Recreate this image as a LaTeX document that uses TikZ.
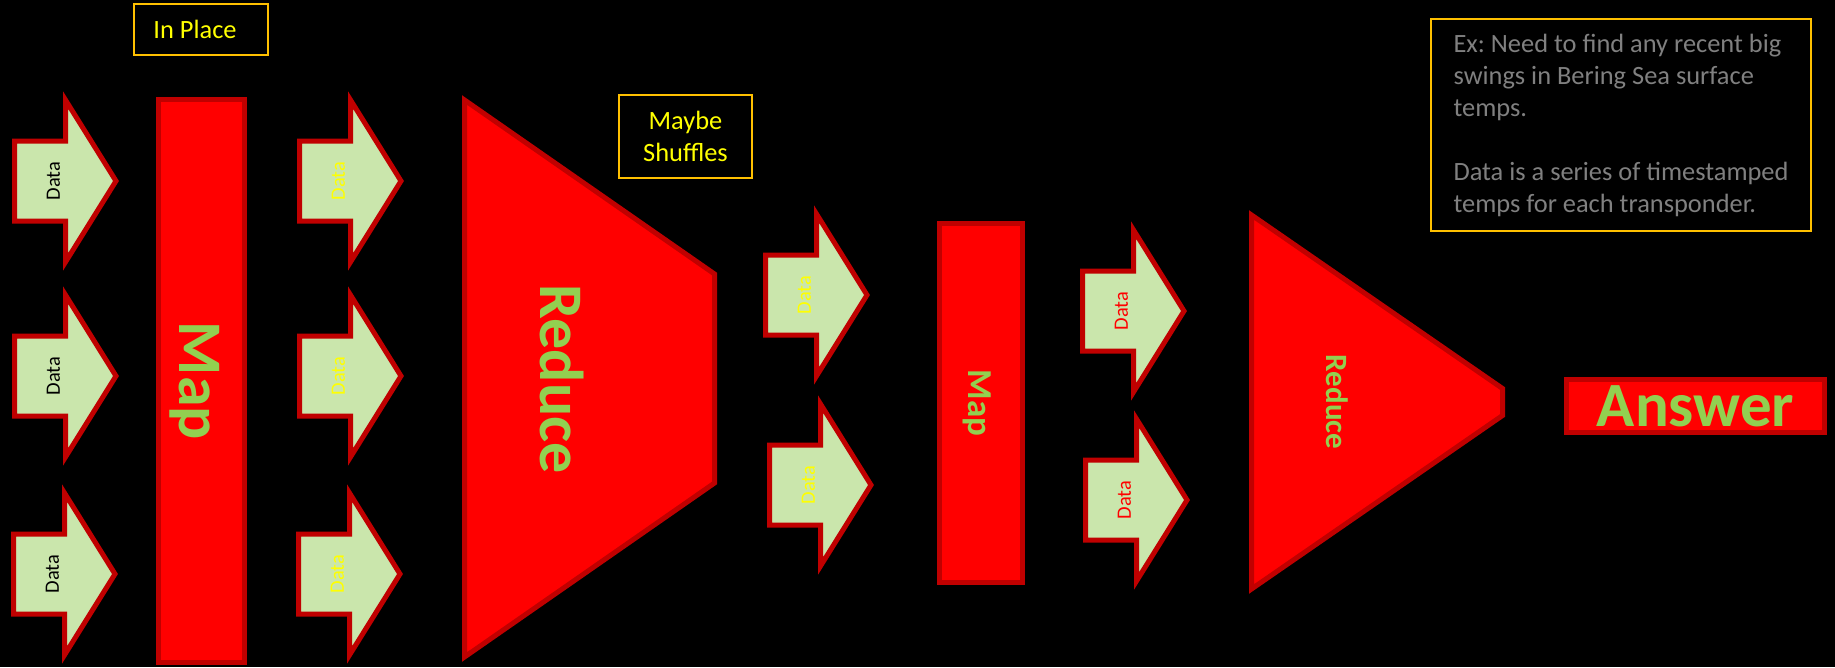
\documentclass[tikz,border=0pt]{standalone}
\usepackage{fontspec}
\setmainfont{Carlito}
\frenchspacing
\definecolor{outlinered}{RGB}{192,0,0}
\definecolor{blockred}{RGB}{255,0,0}
\definecolor{datagreen}{RGB}{202,230,172}
\definecolor{labelgreen}{RGB}{146,208,80}
\definecolor{boxgold}{RGB}{255,192,0}
\definecolor{labelyellow}{RGB}{255,255,0}
\definecolor{notegray}{RGB}{128,128,128}
\tikzset{
  datashape/.style={draw=outlinered, fill=datagreen, line width=5pt},
  blockshape/.style={draw=outlinered, fill=blockred, line width=5pt},
  datatext/.style={rotate=90, inner sep=0pt, font=\fontsize{20.4}{24}\selectfont},
  blocktext/.style={rotate=-90, inner sep=0pt, text=labelgreen},
  notebox/.style={draw=boxgold, line width=2pt, inner sep=0pt, font=\fontsize{26.4}{32}\selectfont},
}

\begin{document}
\begin{tikzpicture}[x=1pt, y=-1pt]

% ── Canvas ───────────────────────────────────────────────────────────
\useasboundingbox (0,0) rectangle (1835,667);
\fill[black] (0,0) rectangle (1835,667);

% ── Arrow dimensions (centre line of the outline) ───────────────────
\def\basedx{51}      % shaft length
\def\tipdx{101.5}    % full arrow length
\def\shafthalf{40}
\def\headhalf{81}
\def\textdx{39}      % where the label sits

% ── Macro for one data arrow ─────────────────────────────────────────
% #1=node name, #2=left x of shaft, #3=centre y, #4=text colour
\newcommand{\dataarrow}[4]{%
  \draw[datashape] (#2,#3-\shafthalf) -- (#2+\basedx,#3-\shafthalf)
    -- (#2+\basedx,#3-\headhalf) -- (#2+\tipdx,#3)
    -- (#2+\basedx,#3+\headhalf) -- (#2+\basedx,#3+\shafthalf)
    -- (#2,#3+\shafthalf) -- cycle;
  \node[datatext, text=#4] (#1) at (#2+\textdx,#3) {Data};
}

% ── Input data ───────────────────────────────────────────────────────
\dataarrow{inA}{14.5}{181}{black}
\dataarrow{inB}{14.5}{376}{black}
\dataarrow{inC}{13.5}{574}{black}

% ── First map ────────────────────────────────────────────────────────
\node[blockshape, minimum width=86pt, minimum height=563pt] (mapA) at (201.5,381) {};
\node[blocktext, font=\bfseries\fontsize{62}{62}\selectfont] (mapAtext) at (195,381) {Map};
\node[notebox, minimum width=134pt, minimum height=51pt] (inplace) at (201,29.5) {};
\node[notebox, draw=none, text=labelyellow] (inplacetext) at (195,29.5) {In Place};

% ── Mapped data ──────────────────────────────────────────────────────
\dataarrow{midA}{299.5}{181}{labelyellow}
\dataarrow{midB}{299.5}{376}{labelyellow}
\dataarrow{midC}{298.5}{574}{labelyellow}

% ── First reduce ─────────────────────────────────────────────────────
\draw[blockshape] (464.5,100) -- (714.5,274) -- (714.5,483) -- (464.5,657) -- cycle;
\node[blocktext, font=\bfseries\fontsize{62}{62}\selectfont] (reduceAtext) at (562,379) {Reduce};
\node[notebox, text=labelyellow, align=center, minimum width=133pt, minimum height=83pt] (shuffle) at (685.5,136.5) {Maybe\\Shuffles};

% ── Reduced data ─────────────────────────────────────────────────────
\dataarrow{shufA}{765.5}{295}{labelyellow}
\dataarrow{shufB}{769.5}{485}{labelyellow}

% ── Second map ───────────────────────────────────────────────────────
\node[blockshape, minimum width=83pt, minimum height=359pt] (mapB) at (981,403) {};
\node[blocktext, font=\bfseries\fontsize{35}{35}\selectfont] (mapBtext) at (977,403) {Map};

\dataarrow{outA}{1082.5}{311}{blockred}
\dataarrow{outB}{1085.5}{500}{blockred}

% ── Second reduce ────────────────────────────────────────────────────
\draw[blockshape] (1251.5,215) -- (1502.5,388.5) -- (1502.5,415.5) -- (1251.5,589) -- cycle;
\node[blocktext, font=\bfseries\fontsize{31}{31}\selectfont] (reduceBtext) at (1337,402) {Reduce};

% ── Answer ───────────────────────────────────────────────────────────
\node[blockshape, minimum width=258pt, minimum height=53pt, inner sep=0pt,
  text=labelgreen, font=\bfseries\fontsize{63}{63}\selectfont] (answer) at (1695.5,406) {Answer};

% ── Example note (upper-right) ───────────────────────────────────────
\node[notebox, text=notegray, align=left, minimum width=380pt, minimum height=212pt] (note)
  at (1621,125) {Ex: Need to find any recent big\\swings in Bering Sea surface\\temps.\\[32pt]Data is a series of timestamped\\temps for each transponder.};

\end{tikzpicture}
\end{document}
